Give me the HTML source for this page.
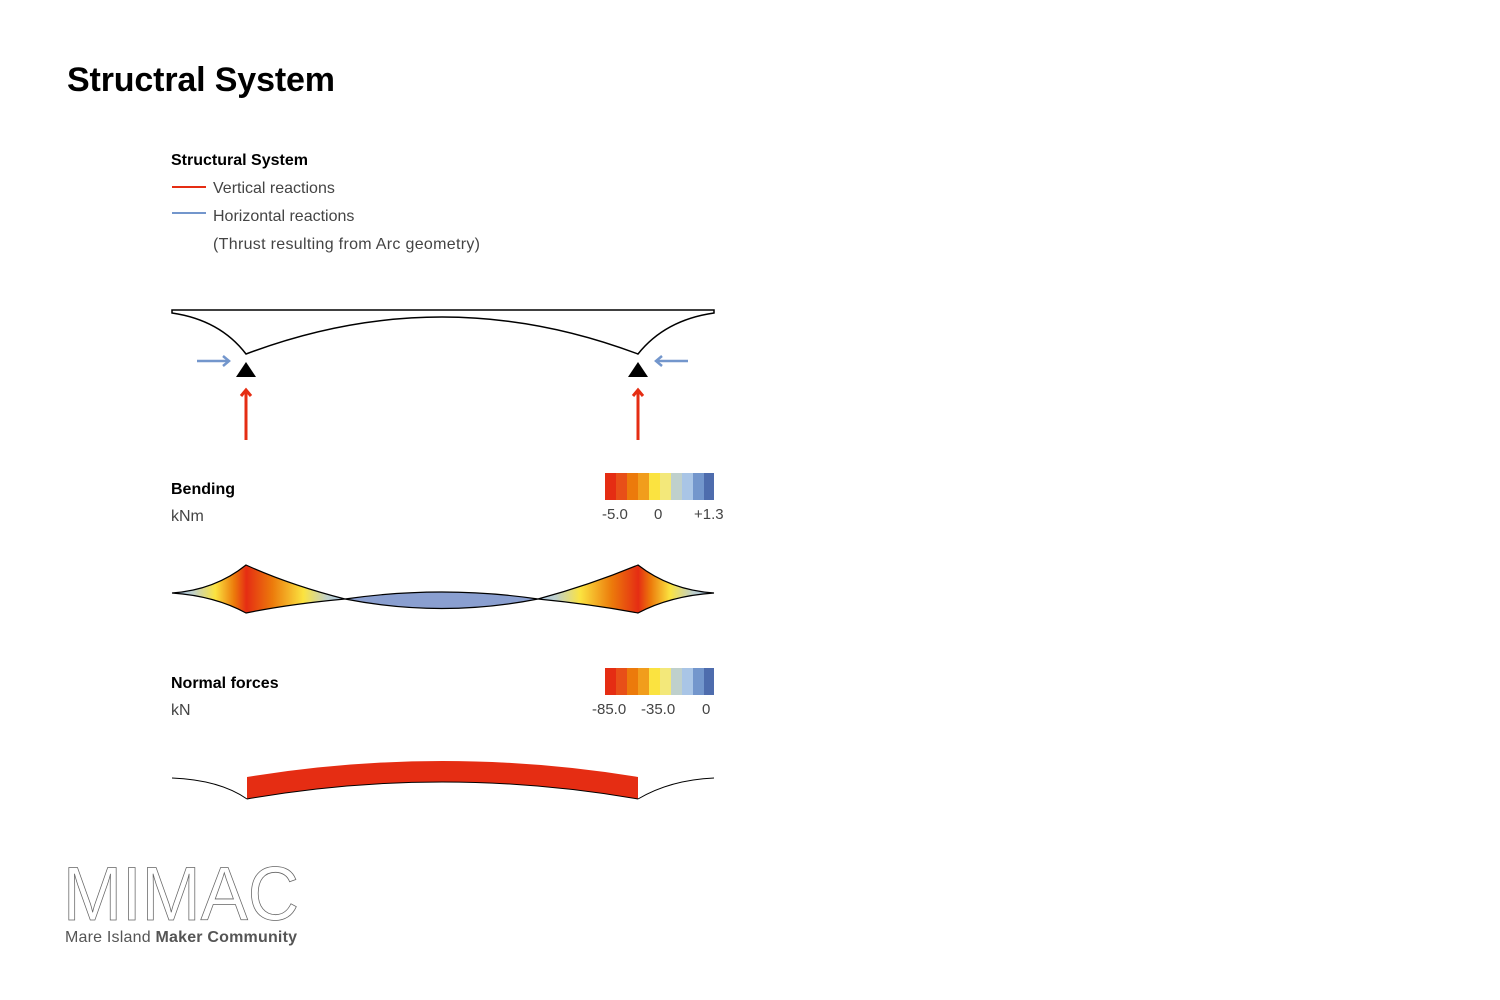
<!DOCTYPE html>
<html><head><meta charset="utf-8"><style>
body{margin:0;width:1500px;height:1000px;background:#fff;overflow:hidden;font-family:"Liberation Sans",sans-serif}
</style></head><body>
<svg width="1500" height="1000" xmlns="http://www.w3.org/2000/svg" style="position:absolute;left:0;top:0">
<defs>
<linearGradient id="gl" x1="172" x2="345" gradientUnits="userSpaceOnUse">
<stop offset="0" stop-color="#8fb0dd"/><stop offset="0.12" stop-color="#bfd0cc"/><stop offset="0.25" stop-color="#fbe340"/><stop offset="0.36" stop-color="#ec7a0b"/><stop offset="0.43" stop-color="#e52d13"/><stop offset="0.58" stop-color="#ec7a0b"/><stop offset="0.76" stop-color="#fbe340"/><stop offset="0.9" stop-color="#bfd0cc"/><stop offset="1" stop-color="#a9c5e6"/></linearGradient>
<linearGradient id="gr" x1="538" x2="714" gradientUnits="userSpaceOnUse">
<stop offset="0" stop-color="#a9c5e6"/><stop offset="0.1" stop-color="#bfd0cc"/><stop offset="0.24" stop-color="#fbe340"/><stop offset="0.42" stop-color="#ec7a0b"/><stop offset="0.57" stop-color="#e52d13"/><stop offset="0.64" stop-color="#ec7a0b"/><stop offset="0.75" stop-color="#fbe340"/><stop offset="0.88" stop-color="#bfd0cc"/><stop offset="1" stop-color="#8fb0dd"/></linearGradient>
</defs>
<text x="67" y="91" font-size="34" font-weight="bold" fill="#000" textLength="268">Structral System</text>
<text x="171" y="165" font-size="16" font-weight="bold">Structural System</text>
<line x1="172" y1="187" x2="206" y2="187" stroke="#e52d13" stroke-width="2"/>
<text x="213" y="193" font-size="16" fill="#444">Vertical reactions</text>
<line x1="172" y1="213" x2="206" y2="213" stroke="#7396cc" stroke-width="2"/>
<text x="213" y="221" font-size="16" fill="#444">Horizontal reactions</text>
<text x="213" y="249" font-size="16" fill="#444" textLength="267">(Thrust resulting from Arc geometry)</text>
<path d="M172,310 L714,310 L714,313 Q665,320 638,354 Q540,317 442,317 Q344,317 246,354 Q220,320 172,313 Z" fill="none" stroke="#000" stroke-width="1.5"/>
<polygon points="246,362 236,377 256,377" fill="#000"/>
<polygon points="638,362 628,377 648,377" fill="#000"/>
<g stroke="#7396cc" stroke-width="2.5" fill="none"><line x1="197" y1="361" x2="229" y2="361"/><polyline points="223,356 229,361 223,366"/>
<line x1="688" y1="361" x2="656" y2="361"/><polyline points="662,356 656,361 662,366"/></g>
<g stroke="#e52d13" stroke-width="3" fill="none"><line x1="246" y1="440" x2="246" y2="391"/><polyline points="241,396 246,390 251,396"/>
<line x1="638" y1="440" x2="638" y2="391"/><polyline points="633,396 638,390 643,396"/></g>
<text x="171" y="494" font-size="16" font-weight="bold">Bending</text>
<text x="171" y="521" font-size="16" fill="#444">kNm</text>
<g id="bar">
<rect x="605" y="473" width="11" height="27" fill="#e52d13"/><rect x="616" y="473" width="11" height="27" fill="#e84f18"/><rect x="627" y="473" width="11" height="27" fill="#ec7a0b"/><rect x="638" y="473" width="11" height="27" fill="#f19d1c"/><rect x="649" y="473" width="11" height="27" fill="#fbe340"/><rect x="660" y="473" width="11" height="27" fill="#f3e87a"/><rect x="671" y="473" width="11" height="27" fill="#bfd0cc"/><rect x="682" y="473" width="11" height="27" fill="#a9c5e6"/><rect x="693" y="473" width="11" height="27" fill="#7396cc"/><rect x="704" y="473" width="10" height="27" fill="#4e6cad"/>
</g>
<text x="602" y="519" font-size="15" fill="#444">-5.0</text><text x="654" y="519" font-size="15" fill="#444">0</text><text x="694" y="519" font-size="15" fill="#444">+1.3</text>
<path d="M172,593 Q215,590 246,565 Q290,585 345,599 Q290,604 246,613 Q215,596 172,593 Z" fill="url(#gl)" stroke="#000" stroke-width="1.2"/>
<path d="M345,599 Q442,585 538,599 Q442,618 345,599 Z" fill="#8a9fd0" stroke="#000" stroke-width="1.2"/>
<path d="M538,599 Q590,585 638,565 Q670,590 714,593 Q670,596 638,613 Q590,604 538,599 Z" fill="url(#gr)" stroke="#000" stroke-width="1.2"/>
<text x="171" y="688" font-size="16" font-weight="bold">Normal forces</text>
<text x="171" y="715" font-size="16" fill="#444">kN</text>
<use href="#bar" y="195"/>
<text x="592" y="714" font-size="15" fill="#444">-85.0</text><text x="641" y="714" font-size="15" fill="#444">-35.0</text><text x="702" y="714" font-size="15" fill="#444">0</text>
<path d="M247,777 Q442,745 638,777 L638,799 Q442,765 247,799 Z" fill="#e52d13"/>
<path d="M247,799 Q442,765 638,799" fill="none" stroke="#000" stroke-width="1"/>
<path d="M172,778 Q220,780 247,799 M638,799 Q670,780 714,778" fill="none" stroke="#000" stroke-width="1"/>
<text x="63" y="920" font-size="76" fill="none" stroke="#666" stroke-width="0.8" textLength="236" lengthAdjust="spacingAndGlyphs">MIMAC</text>
<text x="65" y="942" font-size="16" fill="#555" textLength="232">Mare Island <tspan font-weight="bold">Maker Community</tspan></text>
</svg>
</body></html>
